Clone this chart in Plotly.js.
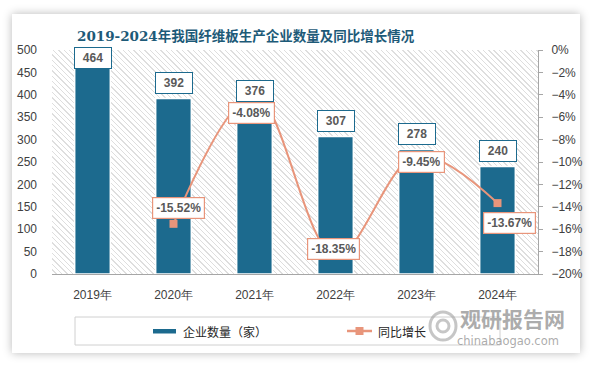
<!DOCTYPE html>
<html>
<head>
<meta charset="utf-8">
<script src="https://cdn.plot.ly/plotly-3.0.1.min.js"></script>
<style>
  html, body { margin: 0; padding: 0; background: #ffffff; width: 594px; height: 366px; overflow: hidden; }
  #card { position: absolute; left: 12px; top: 14px; width: 568px; height: 339px; background: #ffffff;
          box-shadow: 0 0 9px rgba(0,0,0,0.28); }
  #hatch { position: absolute; left: 52px; top: 50px; width: 486px; height: 224px;
           background: repeating-linear-gradient(45deg, #ffffff 0px, #ffffff 2.8px, #dedede 2.8px, #dedede 3.8px); }
  #chart { position: absolute; left: 0; top: 0; width: 594px; height: 366px; }
</style>
</head>
<body>
<div id="card"></div>
<div id="hatch"></div>
<div id="chart"></div>
<script>
// ---- data ----
const categories = ['2019年', '2020年', '2021年', '2022年', '2023年', '2024年'];
const companyCount = [464, 392, 376, 307, 278, 240];
const yoyGrowth = [null, -15.52, -4.08, -18.35, -9.45, -13.67];
const barLabels = ['464', '392', '376', '307', '278', '240'];
const growthLabels = ['', '-15.52%', '-4.08%', '-18.35%', '-9.45%', '-13.67%'];

// ---- style config ----
const BAR_COLOR = '#1c6a8e';
const LINE_COLOR = '#e8957b';
const PLOT = {l: 52, r: 56, t: 50, b: 92};
const PLOT_H = 366 - PLOT.t - PLOT.b;
const PLOT_W = 594 - PLOT.l - PLOT.r;
const Y_MAX = 500;
const LABEL_H = 20;
// pixel offsets (dx right, dy down) of growth labels from their marker
const growthLabelShift = [[0, 0], [5, -16], [-3, 17], [-2, -7], [5, 6], [12, 20]];

const labelFont = {family: 'Liberation Sans, Arial, sans-serif', size: 12, color: '#595959', weight: 'bold'};

const traces = [
  {
    type: 'bar', x: categories, y: companyCount, name: '企业数量（家）',
    marker: {color: BAR_COLOR, line: {color: '#ffffff', width: 1.5}},
    hoverinfo: 'skip', showlegend: false
  },
  {
    type: 'scatter', mode: 'lines+markers', x: categories, y: yoyGrowth, yaxis: 'y2', name: '同比增长',
    line: {color: LINE_COLOR, width: 2, shape: 'spline', smoothing: 1},
    marker: {color: LINE_COLOR, symbol: 'square', size: 8},
    connectgaps: false, hoverinfo: 'skip', showlegend: false
  }
];

const annotations = [];
// bar value labels
companyCount.forEach((v, i) => {
  const px = v / Y_MAX * PLOT_H;
  let ys = 4;
  if (px + ys + LABEL_H > PLOT_H) ys = PLOT_H - LABEL_H - px + 1;
  annotations.push({
    x: categories[i], y: v, xref: 'x', yref: 'y', text: '<b>' + barLabels[i] + '</b>',
    showarrow: false, xanchor: 'center', yanchor: 'bottom', yshift: ys,
    font: labelFont, bgcolor: '#ffffff', bordercolor: BAR_COLOR, borderwidth: 1, borderpad: 3, width: 30, height: 14
  });
});
// growth labels
yoyGrowth.forEach((v, i) => {
  if (v === null) return;
  annotations.push({
    x: categories[i], y: v, xref: 'x', yref: 'y2', text: '<b>' + growthLabels[i] + '</b>',
    showarrow: false, xanchor: 'center', yanchor: 'middle',
    xshift: growthLabelShift[i][0], yshift: -growthLabelShift[i][1],
    font: labelFont, bgcolor: '#ffffff', bordercolor: LINE_COLOR, borderwidth: 1.2, borderpad: 3, height: 14
  });
});

// helpers for paper coords from pixels
const px2x = p => (p - PLOT.l) / PLOT_W;
const px2y = p => (366 - PLOT.b - p) / PLOT_H;

// title
annotations.push({
  xref: 'paper', yref: 'paper', x: px2x(246), y: px2y(36), xanchor: 'center', yanchor: 'middle',
  text: '<b>2019-2024年我国纤维板生产企业数量及同比增长情况</b>', showarrow: false,
  font: {family: 'DejaVu Serif, Noto Sans CJK SC, serif', size: 13.5, color: '#1d5a78'}
});
// legend texts
annotations.push({
  xref: 'paper', yref: 'paper', x: px2x(181), y: px2y(331), xanchor: 'left', yanchor: 'middle',
  text: '企业数量（家）', showarrow: false,
  font: {family: 'Noto Sans CJK SC, sans-serif', size: 12, color: '#262626'}
});
annotations.push({
  xref: 'paper', yref: 'paper', x: px2x(376), y: px2y(331), xanchor: 'left', yanchor: 'middle',
  text: '同比增长', showarrow: false,
  font: {family: 'Noto Sans CJK SC, sans-serif', size: 12, color: '#262626'}
});
// watermark
annotations.push({
  xref: 'paper', yref: 'paper', x: px2x(512), y: px2y(318), xanchor: 'center', yanchor: 'middle',
  text: '<b>观研报告网</b>', showarrow: false,
  font: {family: 'Noto Sans CJK SC, sans-serif', size: 21, color: 'rgba(150,150,150,0.8)'}
});
annotations.push({
  xref: 'paper', yref: 'paper', x: px2x(508), y: px2y(341), xanchor: 'center', yanchor: 'middle',
  text: 'chinabaogao.com', showarrow: false,
  font: {family: 'DejaVu Sans, sans-serif', size: 11.5, color: 'rgba(150,150,150,0.8)'}
});

const shapes = [
  // legend box
  {type: 'rect', xref: 'paper', yref: 'paper', x0: px2x(75), x1: px2x(500), y0: px2y(317), y1: px2y(345),
   line: {color: '#d0d0d0', width: 1}, fillcolor: 'rgba(0,0,0,0)'},
  // bar swatch
  {type: 'rect', xref: 'paper', yref: 'paper', x0: px2x(153), x1: px2x(176), y0: px2y(329), y1: px2y(333.5),
   line: {width: 0}, fillcolor: BAR_COLOR},
  // line swatch
  {type: 'line', xref: 'paper', yref: 'paper', x0: px2x(347), x1: px2x(372), y0: px2y(331), y1: px2y(331),
   line: {color: LINE_COLOR, width: 2.5}},
  {type: 'rect', xref: 'paper', yref: 'paper', x0: px2x(355.5), x1: px2x(363.5), y0: px2y(327), y1: px2y(335),
   line: {width: 0}, fillcolor: LINE_COLOR},
  // watermark logo (approximate swirl)
  {type: 'circle', xref: 'paper', yref: 'paper', x0: px2x(430), x1: px2x(456), y0: px2y(312), y1: px2y(340),
   line: {color: 'rgba(160,160,160,0.6)', width: 3}, fillcolor: 'rgba(0,0,0,0)'},
  {type: 'circle', xref: 'paper', yref: 'paper', x0: px2x(437), x1: px2x(449), y0: px2y(320), y1: px2y(332),
   line: {color: 'rgba(160,160,160,0.6)', width: 3}, fillcolor: 'rgba(0,0,0,0)'}
];

const tickFont = {family: 'Liberation Sans, Arial, sans-serif', size: 12, color: '#404040'};

const layout = {
  width: 594, height: 366,
  margin: {l: PLOT.l, r: PLOT.r, t: PLOT.t, b: PLOT.b, pad: 0},
  paper_bgcolor: 'rgba(0,0,0,0)', plot_bgcolor: 'rgba(0,0,0,0)',
  showlegend: false, bargap: 0.56,
  xaxis: {
    type: 'category', tickfont: tickFont, showgrid: false, zeroline: false,
    showline: true, linecolor: '#a6a6a6', linewidth: 1, ticks: '', ticklabelstandoff: 10
  },
  yaxis: {
    range: [0, Y_MAX], dtick: 50, tickfont: tickFont, showgrid: false, zeroline: false,
    showline: false, ticks: '', ticklabelstandoff: 14
  },
  yaxis2: {
    overlaying: 'y', side: 'right', range: [-20, 0], dtick: 2, ticksuffix: '%',
    tickfont: tickFont, showgrid: false, zeroline: false,
    showline: true, linecolor: '#a6a6a6', linewidth: 1, ticks: 'outside', ticklen: 4, tickcolor: '#a6a6a6',
    ticklabelstandoff: 6
  },
  annotations: annotations,
  shapes: shapes,
  font: {family: 'Liberation Sans, Arial, sans-serif'}
};

Plotly.newPlot('chart', traces, layout, {staticPlot: true, displayModeBar: false});
</script>
</body>
</html>
